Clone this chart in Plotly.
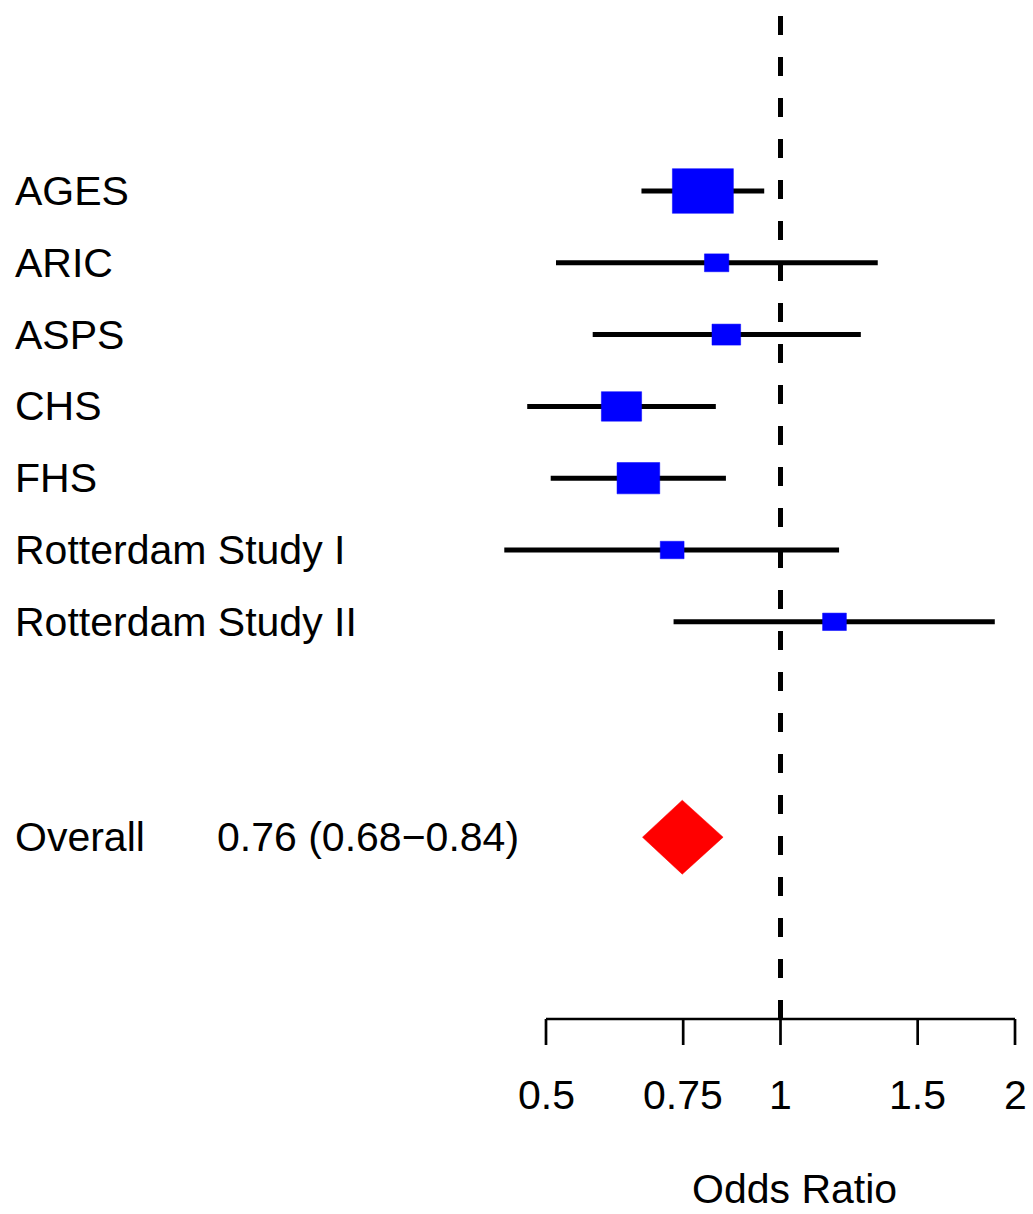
import math
import plotly.graph_objects as go

# ---------------- data ----------------
studies = ["AGES", "ARIC", "ASPS", "CHS", "FHS", "Rotterdam Study I", "Rotterdam Study II"]
odds_ratio = [0.795, 0.828, 0.852, 0.625, 0.657, 0.726, 1.173]
ci_lower = [0.663, 0.515, 0.574, 0.473, 0.507, 0.442, 0.729]
ci_upper = [0.953, 1.333, 1.268, 0.826, 0.851, 1.189, 1.884]
weights = [1.00, 0.40, 0.47, 0.66, 0.70, 0.39, 0.39]   # relative box size

overall_name = "Overall"
overall_label = "0.76 (0.68\u22120.84)"
overall_est = 0.748
overall_lower = 0.665
overall_upper = 0.844

tick_values = [0.5, 0.75, 1, 1.5, 2]
tick_labels = ["0.5", "0.75", "1", "1.5", "2"]
null_value = 1
x_title = "Odds Ratio"

# ---------------- layout geometry ----------------
W, H = 1033, 1214
FONT = "Liberation Sans, Arial, sans-serif"
FS = 41
row_px = 71.8            # pixels per row
first_row_px = 191       # pixel centre of row 1
dec_px = 779.0           # pixels per decade on x
x_left = -1.00193        # log10 value at left edge

study_rows = list(range(1, len(studies) + 1))
overall_row = len(studies) + 3
axis_row = 1 + (1019 - first_row_px) / row_px
tick_len = 26 / row_px

y_top = 1 - first_row_px / row_px
y_bottom = 1 + (H - first_row_px) / row_px

def py(p):
    return 1 - p / H

fig = go.Figure()

# confidence intervals
for r, lo, hi in zip(study_rows, ci_lower, ci_upper):
    fig.add_trace(go.Scatter(x=[lo, hi], y=[r, r], mode="lines",
                             line=dict(color="black", width=5),
                             hoverinfo="skip", showlegend=False))

# boxes
half_w_ln = 30.5 / (dec_px / math.log(10))
half_h = 22.35 / row_px
for r, est, w in zip(study_rows, odds_ratio, weights):
    xl = est * math.exp(-w * half_w_ln)
    xr = est * math.exp(w * half_w_ln)
    yt = r - w * half_h
    yb = r + w * half_h
    fig.add_trace(go.Scatter(x=[xl, xr, xr, xl, xl], y=[yt, yt, yb, yb, yt],
                             mode="lines", fill="toself", fillcolor="#0000FF",
                             line=dict(color="#0000FF", width=0.5),
                             hoverinfo="skip", showlegend=False))

# summary diamond
dh = 37 / row_px
fig.add_trace(go.Scatter(
    x=[overall_lower, overall_est, overall_upper, overall_est, overall_lower],
    y=[overall_row, overall_row - dh, overall_row, overall_row + dh, overall_row],
    mode="lines", fill="toself", fillcolor="#FF0000",
    line=dict(color="#FF0000", width=0.5),
    hoverinfo="skip", showlegend=False))

shapes = []
# dashed reference line at OR = 1 (drawn bottom -> top)
shapes.append(dict(type="line", xref="x", yref="y",
                   x0=null_value, x1=null_value,
                   y0=axis_row, y1=1 + (8 - first_row_px) / row_px,
                   line=dict(color="black", width=5, dash="19px,22px")))
# axis line + ticks
shapes.append(dict(type="line", xref="x", yref="y",
                   x0=tick_values[0], x1=tick_values[-1], y0=axis_row, y1=axis_row,
                   line=dict(color="black", width=2.7)))
for tv in tick_values:
    shapes.append(dict(type="line", xref="x", yref="y",
                       x0=tv, x1=tv, y0=axis_row, y1=axis_row + tick_len,
                       line=dict(color="black", width=2.7)))

annotations = []
for r, name in zip(study_rows, studies):
    annotations.append(dict(x=12.5 / W, xref="paper", y=r, yref="y", text=name,
                            xanchor="left", yanchor="middle", showarrow=False,
                            font=dict(family=FONT, size=FS, color="black")))
annotations.append(dict(x=12.5 / W, xref="paper", y=overall_row, yref="y",
                        text=overall_name, xanchor="left", yanchor="middle",
                        showarrow=False, font=dict(family=FONT, size=FS, color="black")))
annotations.append(dict(x=214.6 / W, xref="paper", y=overall_row, yref="y",
                        text=overall_label, xanchor="left", yanchor="middle",
                        showarrow=False, font=dict(family=FONT, size=FS, color="black")))
for tv, tl in zip(tick_values, tick_labels):
    annotations.append(dict(x=math.log10(tv), xref="x", y=py(1095), yref="paper",
                            text=tl, xanchor="center", yanchor="middle",
                            showarrow=False, font=dict(family=FONT, size=FS, color="black")))
annotations.append(dict(x=794.5 / W, xref="paper", y=py(1189), yref="paper",
                        text=x_title, xanchor="center", yanchor="middle",
                        showarrow=False, borderpad=0,
                        font=dict(family=FONT, size=FS, color="black")))

fig.update_layout(
    width=W, height=H,
    margin=dict(l=0, r=0, t=0, b=0),
    paper_bgcolor="white", plot_bgcolor="white",
    xaxis=dict(type="log", range=[x_left, x_left + W / dec_px], visible=False,
               fixedrange=True),
    yaxis=dict(range=[y_bottom, y_top], visible=False, fixedrange=True),
    shapes=shapes, annotations=annotations, showlegend=False,
)

fig.write_html(
    "out.html",
    config={"displayModeBar": False},
    post_script="document.body.style.margin='0';document.body.style.padding='0';"
                "document.documentElement.style.overflow='hidden';",
)
